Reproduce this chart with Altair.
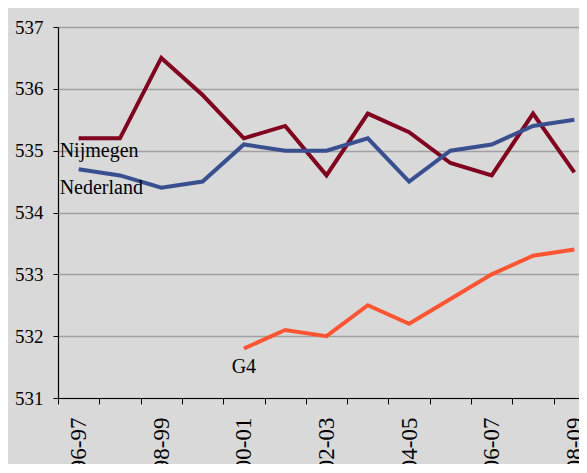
import altair as alt
import pandas as pd

years = ["96-97", "97-98", "98-99", "99-00", "00-01", "01-02", "02-03",
         "03-04", "04-05", "05-06", "06-07", "07-08", "08-09"]
shown_labels = ["96-97", "98-99", "00-01", "02-03", "04-05", "06-07", "08-09"]

nijmegen = [535.2, 535.2, 536.5, 535.9, 535.2, 535.4, 534.6,
            535.6, 535.3, 534.8, 534.6, 535.6, 534.65]
nederland = [534.7, 534.6, 534.4, 534.5, 535.1, 535.0, 535.0,
             535.2, 534.5, 535.0, 535.1, 535.4, 535.5]
g4 = [None, None, None, None, 531.8, 532.1, 532.0,
      532.5, 532.2, 532.6, 533.0, 533.3, 533.4]

series_names = ["Nijmegen", "Nederland", "G4"]
series_colors = ["#800020", "#3A4F90", "#FF5533"]

# label annotations: text, anchor category, value
lab_left_text = ["Nijmegen", "Nederland"]
lab_left_year = ["96-97", "96-97"]
lab_left_value = [535.0, 534.4]
lab_g4_text = ["G4"]
lab_g4_year = ["00-01"]
lab_g4_value = [531.5]

rows = []
for name, vals in zip(series_names, [nijmegen, nederland, g4]):
    for y, v in zip(years, vals):
        rows.append({"year": y, "value": v, "series": name})
df = pd.DataFrame(rows)

df_left = pd.DataFrame({"label": lab_left_text, "year": lab_left_year, "value": lab_left_value})
df_g4 = pd.DataFrame({"label": lab_g4_text, "year": lab_g4_year, "value": lab_g4_value})

serif = "Liberation Serif"

label_list = "[" + ",".join("'" + s + "'" for s in shown_labels) + "]"

xscale = alt.Scale(type="band", domain=years, paddingInner=0, paddingOuter=0)
yscale = alt.Scale(domain=[531, 537], nice=False, zero=False)

x_enc = alt.X(
    "year:N", scale=xscale, sort=years, bandPosition=0.5, title=None,
    axis=alt.Axis(
        tickBand="extent", labelExpr=f"indexof({label_list}, datum.value) >= 0 ? datum.value : ''",
        labelAngle=-90, labelAlign="right", labelBaseline="middle",
        labelFont=serif, labelFontSize=23, labelColor="black", labelPadding=13,
        tickSize=6, tickColor="black", domainColor="black", domainWidth=1.2,
        grid=False, labelOverlap=False,
    ),
)
y_enc = alt.Y(
    "value:Q", scale=yscale, title=None,
    axis=alt.Axis(
        values=[531, 532, 533, 534, 535, 536, 537], format="d", grid=True,
        gridColor="#A0A0A0", gridWidth=1.5, tickColor="black", tickSize=5,
        domainColor="black", domainWidth=1.2, labelFont=serif, labelFontSize=19,
        labelColor="black", labelPadding=10,
    ),
)

lines = alt.Chart(df).mark_line(strokeWidth=4).encode(
    x=x_enc,
    y=y_enc,
    color=alt.Color("series:N", scale=alt.Scale(domain=series_names, range=series_colors), legend=None),
)

text_left = alt.Chart(df_left).mark_text(
    align="left", baseline="middle", dx=-19, font=serif, fontSize=20, color="black"
).encode(
    x=alt.X("year:N", scale=xscale, sort=years, bandPosition=0.5),
    y=alt.Y("value:Q", scale=yscale),
    text="label:N",
)

text_g4 = alt.Chart(df_g4).mark_text(
    align="center", baseline="middle", font=serif, fontSize=20, color="black"
).encode(
    x=alt.X("year:N", scale=xscale, sort=years, bandPosition=0.5),
    y=alt.Y("value:Q", scale=yscale),
    text="label:N",
)

chart = alt.layer(lines, text_left, text_g4).properties(
    width=537, height=371,
    background="#D9D9D9",
    padding={"left": 50, "top": 19, "right": -16, "bottom": 66},
    autosize=alt.AutoSizeParams(type="none"),
).configure_view(stroke=None)

chart.save("out.html", embed_options={"renderer": "svg", "actions": False})
